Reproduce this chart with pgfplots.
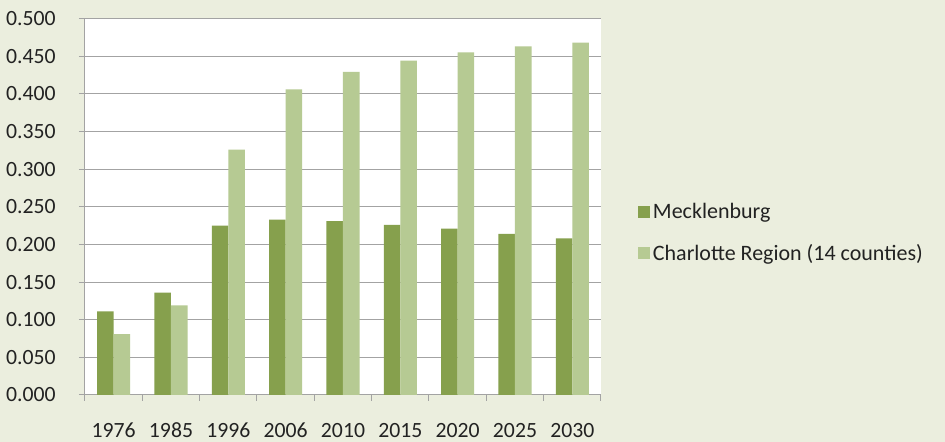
\documentclass[border=0pt]{standalone}
\usepackage{pgfplots}
\pgfplotsset{compat=1.18}
\usepackage{fontspec}
\setmainfont{Carlito}
\definecolor{bg}{HTML}{EBEEDE}
\definecolor{meck}{HTML}{86A04D}
\definecolor{char}{HTML}{B6CA93}
\definecolor{gridc}{HTML}{A3A3A3}
\definecolor{txt}{HTML}{222222}
\begin{document}
\begin{tikzpicture}
\fill[bg] (-63.75pt,-35.25pt) rectangle (645pt,296.25pt);
\begin{axis}[
  at={(0,0)}, anchor=south west,
  scale only axis, width=387pt, height=282.4pt,
  xmin=-0.5, xmax=8.5, ymin=0, ymax=0.5,
  axis background/.style={fill=white},
  ybar=0pt, bar width=12.4pt,
  xtick={0,...,8},
  xticklabels={1976,1985,1996,2006,2010,2015,2020,2025,2030},
  xtick style={draw=none},
  minor xtick={-0.5,0.5,...,8.5},
  minor x tick style={draw=gridc, line width=0.75pt},
  minor tick length=4.5pt,
  ytick={0,0.05,...,0.501},
  major tick length=4.5pt,
  y tick style={draw=gridc, line width=0.75pt},
  tick align=outside,
  ymajorgrids, grid style={draw=gridc, line width=0.75pt},
  axis x line*=bottom, axis y line*=left,
  axis line style={draw=gridc, line width=0.75pt, -},
  separate axis lines,
  every axis plot/.append style={draw=none},
  /pgf/number format/assume math mode=true,
  /pgf/number format/fixed, /pgf/number format/fixed zerofill, /pgf/number format/precision=3,
  tick label style={font=\fontsize{16.3pt}{18pt}\selectfont, text=txt},
  every y tick label/.append style={xshift=-14pt},
  x tick label style={yshift=-13pt},
  legend style={at={(1.064,0.431)}, anchor=west, draw=none, fill=none,
    font=\fontsize{16.5pt}{18pt}\selectfont, text=txt, row sep=14pt,
    cells={anchor=west}},
  legend image code/.code={\fill[#1] (0pt,-4.5pt) rectangle (9pt,4.5pt);},
]
\addplot[fill=meck] coordinates {(0,0.111) (1,0.136) (2,0.225) (3,0.233) (4,0.231) (5,0.226) (6,0.221) (7,0.214) (8,0.208)};
\addplot[fill=char] coordinates {(0,0.081) (1,0.119) (2,0.326) (3,0.406) (4,0.429) (5,0.444) (6,0.455) (7,0.463) (8,0.468)};
\legend{Mecklenburg, Charlotte Region (14 counties)}
\end{axis}
\pgfresetboundingbox
\useasboundingbox (-63.75pt,-35.25pt) rectangle (645pt,296.25pt);
\end{tikzpicture}
\end{document}
